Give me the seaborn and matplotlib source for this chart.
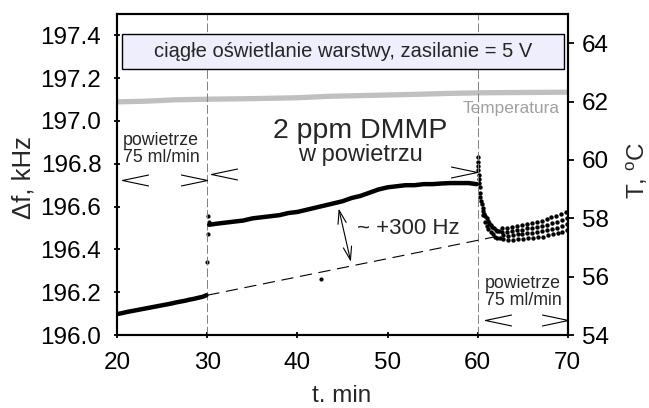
import numpy as np
import pandas as pd
import matplotlib
matplotlib.use("Agg")
import matplotlib.pyplot as plt
from matplotlib.path import Path
from matplotlib.patches import Rectangle
import seaborn as sns

# ---------------- data ----------------
# baseline in air (20-30 min)
base_t = [20.0, 20.5, 21.0, 21.5, 22.0, 22.5, 23.0, 23.5, 24.0, 24.5, 25.0, 25.5,
          26.0, 26.5, 27.0, 27.5, 28.0, 28.5, 29.0, 29.5, 29.9]
base_f = [196.098, 196.102, 196.107, 196.111, 196.115, 196.119, 196.123, 196.127,
          196.131, 196.135, 196.139, 196.143, 196.147, 196.152, 196.156, 196.160,
          196.165, 196.169, 196.174, 196.179, 196.186]

# exposure to 2 ppm DMMP (30-60 min)
gas_t = [30.2, 31, 32, 33, 34, 35, 36, 37, 38, 39, 40, 41, 42, 43, 44, 45, 46, 47,
         48, 49, 50, 51, 52, 53, 54, 55, 56, 57, 58, 59, 59.9]
gas_f = [196.515, 196.520, 196.525, 196.530, 196.535, 196.545, 196.550, 196.555,
         196.560, 196.570, 196.575, 196.585, 196.595, 196.605, 196.615, 196.625,
         196.640, 196.650, 196.665, 196.680, 196.690, 196.695, 196.700, 196.700,
         196.705, 196.705, 196.708, 196.710, 196.710, 196.710, 196.705]

# isolated points (step at 30 min, outlier)
iso_t = [30.00, 30.08, 30.12, 30.16, 42.6]
iso_f = [196.340, 196.470, 196.555, 196.530, 196.260]

# recovery in air (60-70 min)
rec_t = [60.00, 60.03, 60.06, 60.09, 60.12, 60.15, 60.18, 60.22, 60.27, 60.32, 60.38,
         60.45, 60.55, 60.65, 60.75, 60.85, 61.00, 61.15, 61.30, 61.45, 61.60, 61.80,
         62.00, 62.20, 62.40,
         60.60, 60.80, 61.00, 61.20, 61.45, 61.70, 61.95, 62.20, 62.45,
         62.70, 62.74, 62.78, 62.82,
         63.25, 63.29, 63.33, 63.37,
         63.80, 63.84, 63.88, 63.92,
         64.35, 64.39, 64.43, 64.47,
         64.90, 64.94, 64.98, 65.02,
         65.45, 65.49, 65.53, 65.57,
         66.00, 66.04, 66.08, 66.12,
         66.55, 66.59, 66.63, 66.67,
         67.10, 67.14, 67.18, 67.22,
         67.65, 67.69, 67.73, 67.77,
         68.20, 68.24, 68.28, 68.32,
         68.75, 68.79, 68.83, 68.87,
         69.30, 69.34, 69.38, 69.42,
         69.85, 69.88, 69.91, 69.94]
rec_f = [196.830, 196.810, 196.790, 196.770, 196.750, 196.730, 196.712, 196.690,
         196.665, 196.645, 196.625, 196.610, 196.595, 196.580, 196.565, 196.555,
         196.545, 196.535, 196.525, 196.515, 196.505, 196.498, 196.492, 196.488,
         196.485,
         196.560, 196.530, 196.510, 196.495, 196.480, 196.470, 196.460, 196.455, 196.452,
         196.500, 196.483, 196.467, 196.450,
         196.500, 196.482, 196.463, 196.445,
         196.505, 196.485, 196.465, 196.445,
         196.510, 196.490, 196.470, 196.450,
         196.515, 196.493, 196.472, 196.450,
         196.520, 196.498, 196.477, 196.455,
         196.525, 196.502, 196.478, 196.455,
         196.530, 196.507, 196.483, 196.460,
         196.535, 196.510, 196.485, 196.460,
         196.540, 196.515, 196.490, 196.465,
         196.550, 196.523, 196.497, 196.470,
         196.555, 196.528, 196.502, 196.475,
         196.565, 196.537, 196.508, 196.480,
         196.575, 196.547, 196.518, 196.490]

# temperature (right axis)
temp_t = [20, 23, 26.5, 30, 35, 40, 43.5, 48, 53.5, 57, 60.5, 65, 70]
temp_v = [61.99, 62.01, 62.06, 62.08, 62.10, 62.13, 62.18, 62.21, 62.25, 62.28,
          62.30, 62.31, 62.32]

# extrapolated baseline (dashed)
trend_t = [30.0, 62.3]
trend_f = [196.186, 196.462]

x_ticks = [20, 30, 40, 50, 60, 70]
yl_ticks = [196.0, 196.2, 196.4, 196.6, 196.8, 197.0, 197.2, 197.4]
yr_ticks = [54, 56, 58, 60, 62, 64]

# ---------------- style ----------------
sns.set_theme(style="white")
plt.rcParams["font.family"] = ["Liberation Sans", "DejaVu Sans"]
plt.rcParams["mathtext.fontset"] = "custom"
plt.rcParams["mathtext.rm"] = "Liberation Sans"
plt.rcParams["mathtext.it"] = "Liberation Sans"

fig = plt.figure(figsize=(6.49, 4.08), dpi=100)
ax = fig.add_axes([0.1807, 0.1789, 0.6940, 0.7868])
ax2 = ax.twinx()

df_base = pd.DataFrame({"t": base_t, "f": base_f})
df_gas = pd.DataFrame({"t": gas_t, "f": gas_f})
df_iso = pd.DataFrame({"t": iso_t, "f": iso_f})
df_rec = pd.DataFrame({"t": rec_t, "f": rec_f})
df_temp = pd.DataFrame({"t": temp_t, "T": temp_v})

sns.lineplot(data=df_base, x="t", y="f", ax=ax, color="black", lw=3.2, sort=False)
sns.lineplot(data=df_gas, x="t", y="f", ax=ax, color="black", lw=3.2, sort=False)
sns.scatterplot(data=df_iso, x="t", y="f", ax=ax, color="black", s=9, linewidth=0)
sns.scatterplot(data=df_rec, x="t", y="f", ax=ax, color="black", s=10, linewidth=0)

# dashed extrapolated baseline
ax.plot(trend_t, trend_f, color="black", lw=0.8, ls=(0, (11, 6)))

# vertical markers of gas switching
for xv in (30, 60):
    ax.axvline(xv, color="#808080", lw=0.7, ls=(0, (9, 3)), zorder=1)

# temperature
sns.lineplot(data=df_temp, x="t", y="T", ax=ax2, color="#c0c0c0", lw=3.8)

# axes
ax.set_xlim(20, 70)
ax.set_ylim(196.0, 197.5)
ax2.set_ylim(54, 65)
ax.set_xticks(x_ticks)
ax.set_yticks(yl_ticks)
ax.set_yticklabels([f"{v:.1f}" for v in yl_ticks])
ax2.set_yticks(yr_ticks)
ax.set_xticklabels([str(v) for v in x_ticks])

for a in (ax, ax2):
    for s in a.spines.values():
        s.set_linewidth(1.5)
        s.set_color("black")

TICK_FS = 17.5
ax.tick_params(axis="both", which="both", labelsize=TICK_FS, direction="inout",
               length=5, width=1.3, color="black", labelcolor="black")
ax.tick_params(axis="y", pad=9, left=True, right=False)
ax.tick_params(axis="x", pad=10, bottom=True, top=False)
ax2.tick_params(axis="y", labelsize=TICK_FS, direction="out", length=4, width=1.3,
                pad=6, right=True, color="black", labelcolor="black")

ax.set_xlabel("t. min", fontsize=17.5, va="center")
ax.xaxis.set_label_coords(0.498, -0.19)
ax.set_ylabel("\u0394f, kHz", fontsize=18.5, va="center")
ax.yaxis.set_label_coords(-0.209, 0.489)
ax2.set_ylabel("T, $^{\\mathrm{o}}$C", fontsize=17.5, va="center", rotation=90)
ax2.yaxis.set_label_coords(1.154, 0.514)

# title box
ax.add_patch(Rectangle((0.0098, 0.8277), 0.9827, 0.1091, transform=ax.transAxes,
                       facecolor="#eeeefc", edgecolor="black", lw=1.0, zorder=5))
ax.text(0.501, 0.882, "ciągłe oświetlanie warstwy, zasilanie = 5 V",
        transform=ax.transAxes, ha="center", va="center", fontsize=14.5, zorder=6)

ax.text(0.983, 0.707, "Temperatura", transform=ax.transAxes, ha="right",
        va="center", fontsize=12.4, color="#a0a0a0")

ax.text(20.6, 196.867, "powietrze\n75 ml/min", ha="left", va="center",
        fontsize=12.8, linespacing=1.0)
ax.text(60.85, 196.20, "powietrze\n75 ml/min", ha="left", va="center",
        fontsize=12.8, linespacing=1.0)
ax.text(47.0, 196.955, "2 ppm DMMP", ha="center", va="center", fontsize=20.5)
ax.text(47.0, 196.84, "w powietrzu", ha="center", va="center", fontsize=17)
ax.text(46.6, 196.50, "~ +300 Hz", ha="left", va="center", fontsize=16)

# double arrow for the response
ax.annotate("", xy=(44.58, 196.591), xytext=(45.93, 196.342),
            arrowprops=dict(arrowstyle="<->,head_length=0.8,head_width=0.25",
                            lw=0.8, color="black", shrinkA=0, shrinkB=0))

# open chevron arrowheads marking flow periods
chev_left = Path([(1, 0.21), (0, 0), (1, -0.21)],
                 [Path.MOVETO, Path.LINETO, Path.LINETO])
chev_right = Path([(-1, 0.21), (0, 0), (-1, -0.21)],
                  [Path.MOVETO, Path.LINETO, Path.LINETO])
left_tips_t = [20.5, 30.4, 60.85]
left_tips_f = [196.722, 196.754, 196.07]
right_tips_t = [30.0, 59.9, 70.0]
right_tips_f = [196.722, 196.760, 196.07]
ax.plot(left_tips_t, left_tips_f, ls="none", marker=chev_left, ms=38,
        mfc="none", mec="black", mew=0.8, clip_on=False)
ax.plot(right_tips_t, right_tips_f, ls="none", marker=chev_right, ms=38,
        mfc="none", mec="black", mew=0.8, clip_on=False)

ax.set_zorder(ax2.get_zorder() + 1)
ax.patch.set_visible(False)

fig.savefig("out.png", dpi=100)
